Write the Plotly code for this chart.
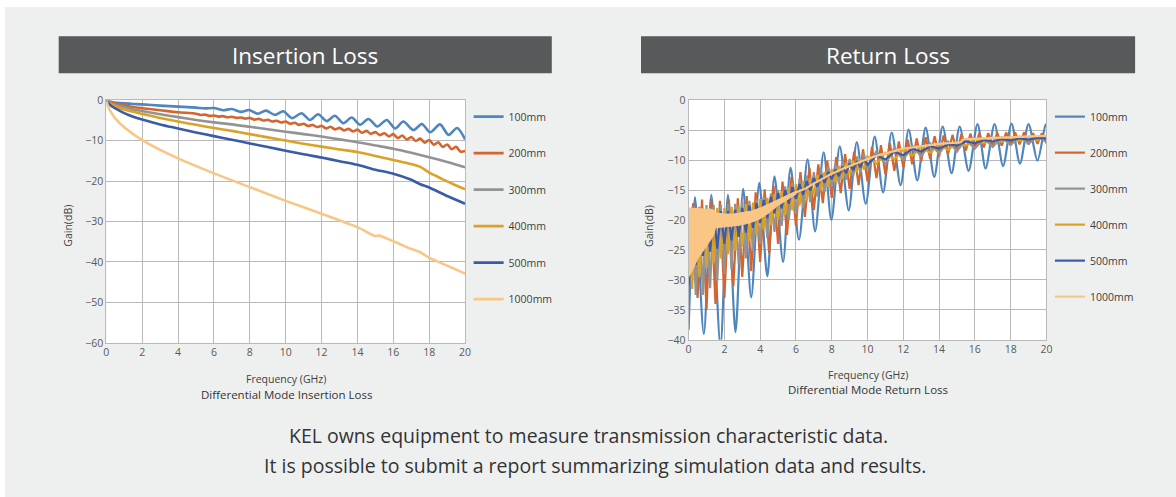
import plotly.graph_objects as go

# The page keeps the browser's 8px body margin, so the figure is sized to fit the window exactly.
WIN_W, WIN_H = 1176, 497
OFF = 8
W, H = WIN_W - 2 * OFF, WIN_H - 2 * OFF
# measured correction between requested and photographed positions
SX, CX = 0.99, 3.5
SY, CY = 0.972, 7.0

SERIES = ["100mm", "200mm", "300mm", "400mm", "500mm", "1000mm"]
COLORS = ["#4e86bd", "#d4652f", "#939393", "#dca127", "#3a5ca8", "#f9c685"]

# ---------------- Insertion loss ----------------
il100_f = [0, 0.1, 0.3, 0.6, 1, 1.5, 2, 3, 4, 5, 5.5, 6.0, 6.5, 7.0, 7.5, 7.95, 8.45, 8.9, 9.4, 9.86,
           10.35, 10.88, 11.35, 11.81, 12.28, 12.74, 13.21, 13.68, 14.14, 14.61, 15.11, 15.63, 16.1,
           16.56, 17.12, 17.59, 18.05, 18.6, 19.08, 19.55, 20.0]
il100 = [0, -0.2, -0.45, -0.65, -0.8, -0.95, -1.05, -1.35, -1.6, -1.85, -2.05, -1.95, -2.5, -2.2, -2.9,
         -2.45, -3.35, -2.6, -3.65, -2.75, -4.45, -3.25, -4.9, -3.5, -5.2, -3.85, -5.7, -4.3, -6.1,
         -4.65, -6.5, -4.9, -7.0, -5.3, -7.4, -5.9, -7.95, -6.0, -8.6, -6.9, -9.7]

il200_f = [0, 0.1, 0.3, 0.6, 1, 1.5, 2, 3, 4,
           5.0, 5.25, 5.5, 5.75, 6.0, 6.25, 6.5, 6.75, 7.0, 7.25, 7.5, 7.75, 8.0, 8.25, 8.5, 8.75,
           9.0, 9.25, 9.5, 9.75, 10.0, 10.25, 10.5, 10.75, 11.0, 11.25, 11.5, 11.75, 12.0, 12.25,
           12.5, 12.75, 13.0, 13.25, 13.5, 13.75, 14.0, 14.25, 14.5, 14.75, 15.0, 15.25, 15.5,
           15.75, 16.0, 16.25, 16.5, 16.75, 17.0, 17.25, 17.5, 17.75, 18.0, 18.25, 18.5, 18.75,
           19.0, 19.25, 19.5, 19.75, 20.0]
il200 = [0, -0.3, -0.65, -0.95, -1.25, -1.7, -2.0, -2.5, -3.0,
         -3.35, -3.66, -3.58, -3.89, -3.8, -4.08, -3.95, -4.23, -4.1, -4.39, -4.28, -4.56, -4.4,
         -4.81, -4.63, -5.04, -4.85, -5.28, -5.1, -5.53, -5.3, -5.84, -5.58, -6.11, -5.85, -6.39,
         -6.13, -6.66, -6.35, -6.98, -6.6, -7.23, -6.85, -7.48, -7.1, -7.73, -7.3, -8.05, -7.6,
         -8.35, -7.9, -8.65, -8.2, -8.95, -8.4, -9.38, -8.75, -9.73, -9.1, -10.1, -9.5, -10.5,
         -9.85, -11.03, -10.4, -11.58, -10.95, -12.15, -11.55, -12.75, -12.6]

il300_f = [0, 0.1, 0.3, 0.6, 1, 1.5, 2, 3, 4, 5, 6, 7, 8, 9, 10, 11, 12, 13, 14, 15, 16, 17, 18, 19, 20]
il300 = [0, -0.4, -0.9, -1.3, -1.7, -2.3, -2.7, -3.5, -4.2, -4.9, -5.5, -6.0, -6.6, -7.2, -7.8, -8.4,
         -9.0, -9.7, -10.4, -11.2, -12.0, -13.0, -14.1, -15.3, -16.6]

il400_f = [0, 0.1, 0.3, 0.6, 1, 1.5, 2, 3, 4, 5, 6, 7, 8, 9, 10, 11, 12, 13, 14, 15, 16, 17, 17.5,
           18, 18.5, 19, 19.5, 20]
il400 = [0, -0.5, -1.1, -1.7, -2.3, -2.9, -3.4, -4.4, -5.3, -6.1, -6.9, -7.6, -8.4, -9.2, -10.0,
         -10.8, -11.5, -12.2, -12.8, -13.8, -14.8, -15.8, -16.5, -17.9, -19.0, -20.1, -21.1, -22.0]

il500_f = [0, 0.1, 0.3, 0.6, 1, 1.5, 2, 3, 4, 5, 6, 7, 8, 9, 10, 11, 12, 13, 14, 15, 16, 17, 17.5,
           18, 19, 20]
il500 = [0, -0.7, -1.5, -2.3, -3.2, -4.1, -4.8, -6.0, -7.0, -8.0, -8.9, -9.8, -10.7, -11.6, -12.5,
         -13.4, -14.2, -15.1, -16.0, -17.2, -18.2, -19.7, -20.8, -21.6, -23.7, -25.6]

il1000_f = [0, 0.1, 0.25, 0.5, 1, 2, 3, 4, 6, 8, 10, 12, 14, 15, 15.2, 16, 17, 17.5, 18, 19, 20]
il1000 = [0, -1.6, -2.9, -4.5, -6.7, -9.9, -12.3, -14.4, -18.1, -21.5, -24.9, -28.1, -31.4, -33.6,
          -33.5, -34.9, -36.8, -37.6, -39.0, -40.9, -42.9]

IL = [(il100_f, il100), (il200_f, il200), (il300_f, il300), (il400_f, il400), (il500_f, il500),
      (il1000_f, il1000)]

# ---------------- Return loss ----------------
rl100_f = [0.0, 0.35, 0.85, 1.27, 1.78, 2.2, 2.62, 3.05, 3.5, 3.95, 4.4, 4.8, 5.28, 5.7, 6.17, 6.65,
           7.07, 7.55, 7.98, 8.45, 8.95, 9.4, 9.9, 10.4, 10.87, 11.35, 11.85, 12.3, 12.78, 13.25,
           13.73, 14.2, 14.7, 15.15, 15.65, 16.15, 16.6, 17.1, 17.58, 18.05, 18.52, 19.0, 19.5,
           19.95, 20.0]
rl100 = [-38.3, -16.2, -39.0, -15.8, -41.0, -15.8, -38.7, -14.8, -32.9, -13.8, -29.4, -12.7, -27.0,
         -11.3, -23.3, -9.9, -21.9, -8.7, -20.0, -7.7, -18.4, -7.0, -17.3, -6.1, -15.4, -5.4, -14.2,
         -4.9, -13.4, -4.6, -12.8, -4.4, -12.2, -4.4, -11.8, -4.0, -11.4, -4.0, -11.0, -3.9, -10.6,
         -4.0, -10.1, -4.1, -4.3]

rl200_f = [i * 0.25 for i in range(81)]
rl200 = [-31, -17.2, -33, -16.6, -35, -16.5, -34, -16.8, -33, -16.6, -31, -16.4, -29.5, -16.0, -28.5,
         -15.4, -27, -14.9, -25.5, -14.3, -24, -13.6, -22.5, -12.8, -21, -12.0, -19.5, -11.3, -18.3,
         -10.7, -17.2, -10.1, -16.3, -9.5, -15.5, -9.0, -14.8, -8.6, -14.2, -8.2, -13.6, -7.8, -13.0,
         -7.5, -12.4, -7.2, -11.8, -6.9, -11.2, -6.6, -10.7, -6.4, -10.2, -6.2, -9.8, -6.0, -9.4,
         -5.9, -9.0, -5.8, -8.7, -5.7, -8.4, -5.6, -8.1, -5.5, -7.9, -5.5, -7.7, -5.4, -7.6, -5.4,
         -7.5, -5.4, -7.4, -5.4, -7.4, -5.5, -7.3, -5.5, -7.2]

rl_grid = [i * 0.2 for i in range(51)] + [10.5 + i * 0.5 for i in range(20)]
rl300 = [-30, -17.9, -32.5, -17.8, -32.5, -17.5, -31.4, -17.5, -30.2, -17.5, -29, -17.4, -28.2,
         -17.3, -27.4, -17, -26.4, -16.8, -25.2, -16.6, -24, -16.2, -23, -15.6, -22, -15, -21,
         -14.4, -20, -13.8, -19, -13.2, -18, -12.6, -17, -12, -16.1, -11.5, -15.3, -11.0, -14.5,
         -10.6, -13.9, -10.2, -13.3, -9.8, -12.7, -9.4, -12.1, -9.0, -11.5,
         -8.5, -10.7, -8.0, -10.0, -7.6, -9.4, -7.2, -8.9, -6.9, -8.5, -6.6, -8.1, -6.4, -7.8,
         -6.2, -7.5, -6.1, -7.3, -6.0, -7.0]
rl400 = [-18.5, -31.5, -18.0, -29.5, -18.0, -28, -18.0, -27.2, -18.0, -26.4, -18.0, -25.7, -17.8,
         -25.1, -17.6, -24.5, -17.3, -23.5, -17.1, -22.5, -16.5, -21.6, -16.3, -20.8, -15.7, -20,
         -15.2, -19.2, -14.6, -18.4, -14.0, -17.6, -13.5, -16.7, -13.0, -15.8, -12.5, -15.1, -12.0,
         -14.4, -11.5, -13.7, -11.0, -13.1, -10.5, -12.5, -10.1, -12.0, -9.8, -11.6, -9.4,
         -10.6, -8.8, -9.9, -8.2, -9.3, -7.8, -8.8, -7.4, -8.3, -7.1, -7.6, -6.5, -7.2, -6.3,
         -7.0, -6.2, -6.8, -6.1, -6.7, -6.0]
rl500 = [-31, -18, -27.5, -18.2, -26, -18.5, -25.3, -18.5, -24.8, -18.5, -24, -18.5, -23.4, -18.3,
         -22.8, -18.0, -22.1, -17.6, -21.3, -17.2, -20.5, -16.7, -19.7, -16.1, -18.9, -15.5, -18.1,
         -15.0, -17.3, -14.5, -16.5, -14.0, -15.8, -13.5, -15.1, -13.0, -14.5, -12.5, -13.8, -12.0,
         -13.2, -11.6, -12.7, -11.1, -12.2, -10.6, -11.7, -10.2, -11.2, -9.8, -10.8,
         -9.2, -9.9, -8.6, -9.2, -8.1, -8.6, -7.7, -8.1, -7.4, -7.6, -6.9, -7.2, -6.7, -6.9,
         -6.5, -6.7, -6.4, -6.6, -6.3, -6.4]

rl1000_f = [0, 0.5, 1, 1.5, 2, 3, 4, 4.5, 5, 5.5, 6, 6.5, 7, 7.5, 8, 8.5, 9, 9.5, 10, 10.5, 11,
            11.5, 12, 12.5, 13, 13.5, 14, 14.5, 15, 15.2, 15.35, 16, 17, 18, 19, 20]
rl1000 = [-22.5, -21.5, -21.0, -20.2, -20.1, -19.8, -18.9, -17.9, -17.0, -16.2, -15.4, -14.8, -13.9,
          -13.1, -12.3, -11.6, -11.0, -10.4, -9.8, -9.3, -8.9, -8.5, -8.1, -7.9, -7.7, -7.5, -7.3,
          -7.2, -7.1, -7.05, -6.55, -6.45, -6.3, -6.2, -6.05, -5.95]
# envelope of the fast oscillation band of 1000mm at low frequency
rl1000_band_f = [0, 0.2, 0.5, 1.0, 1.4, 1.5, 2, 2.5, 3, 3.5, 4, 4.5, 5, 5.5, 6]
rl1000_upper = [-18.0, -18.0, -18.1, -18.2, -18.3, -18.8, -19.0, -19.0, -18.8, -18.5, -18.0, -17.3,
                -16.5, -15.9, -15.2]
rl1000_lower = [-29.5, -28.5, -26.5, -24.3, -22.6, -21.3, -21.2, -21.0, -20.8, -20.4, -19.8, -18.8,
                -17.6, -16.7, -15.7]

RL = [(rl100_f, rl100), (rl200_f, rl200), (rl_grid, rl300), (rl_grid, rl400), (rl_grid, rl500),
      (rl1000_f, rl1000)]

FONT = "Open Sans"
TICK_COLOR = "#595959"
GRID = "#b9b9b9"
PANEL = "#eef0ef"


def px_x(x):
    """reference pixel -> paper fraction"""
    return ((x - CX) / SX - OFF) / W


def px_y(y):
    return 1 - ((y - CY) / SY - OFF) / H


fig = go.Figure()

for i, (name, col) in enumerate(zip(SERIES, COLORS)):
    fx, fy = IL[i]
    fig.add_trace(go.Scatter(x=fx, y=fy, mode="lines", name=name, legendgroup="il" + name,
                             line=dict(color=col, width=2.6, shape="spline", smoothing=0.8),
                             xaxis="x", yaxis="y", legend="legend"))

for i, (name, col) in enumerate(zip(SERIES, COLORS)):
    fx, fy = RL[i]
    if name == "1000mm":
        fig.add_trace(go.Scatter(
            x=rl1000_band_f + rl1000_band_f[::-1], y=rl1000_upper + rl1000_lower[::-1],
            mode="lines", fill="toself", fillcolor=col, line=dict(color=col, width=1),
            showlegend=False, hoverinfo="skip", xaxis="x2", yaxis="y2"))
    fig.add_trace(go.Scatter(x=fx, y=fy, mode="lines", name=name, legendgroup="rl" + name,
                             line=dict(color=col, width=2.2,
                                       shape="spline" if name in ("100mm", "1000mm") else "linear",
                                       smoothing=0.8),
                             xaxis="x2", yaxis="y2", legend="legend2"))

axis_common = dict(showgrid=True, gridcolor=GRID, gridwidth=1, zeroline=False, showline=True,
                   linecolor=GRID, linewidth=1, mirror=True, ticks="",
                   tickfont=dict(family=FONT, size=10.5, color=TICK_COLOR), fixedrange=True)

fig.update_layout(
    width=W, height=H, autosize=False, margin=dict(l=0, r=0, t=0, b=0),
    paper_bgcolor=PANEL, plot_bgcolor="#ffffff",
    font=dict(family=FONT, color="#404040"),
    xaxis=dict(domain=[px_x(106.5), px_x(464.5)], range=[0, 20], dtick=2, anchor="y", **axis_common),
    yaxis=dict(domain=[px_y(343), px_y(100)], range=[-60, 0], dtick=10, anchor="x", **axis_common),
    xaxis2=dict(domain=[px_x(687.5), px_x(1044.5)], range=[0, 20], dtick=2, anchor="y2", **axis_common),
    yaxis2=dict(domain=[px_y(340), px_y(100)], range=[-40, 0], dtick=5, anchor="x2", **axis_common),
    legend=dict(x=px_x(468), y=px_y(102), xanchor="left", yanchor="top", tracegroupgap=17.5,
                font=dict(family=FONT, size=10.5, color="#404040"), bgcolor="rgba(0,0,0,0)",
                itemwidth=30),
    legend2=dict(x=px_x(1048), y=px_y(102), xanchor="left", yanchor="top", tracegroupgap=17,
                 font=dict(family=FONT, size=10.5, color="#404040"), bgcolor="rgba(0,0,0,0)",
                 itemwidth=30),
    showlegend=True,
)

shapes = [
    dict(type="rect", xref="paper", yref="paper", x0=px_x(59), x1=px_x(551), y0=px_y(73), y1=px_y(36),
         fillcolor="#58595b", line=dict(width=0), layer="below"),
    dict(type="rect", xref="paper", yref="paper", x0=px_x(640), x1=px_x(1133), y0=px_y(73), y1=px_y(36),
         fillcolor="#58595b", line=dict(width=0), layer="below"),
]
fig.update_layout(shapes=shapes)

ann = []


def add_text(text, x, y, size, color="#404040", angle=0):
    ann.append(dict(text=text, x=px_x(x), y=px_y(y), xref="paper", yref="paper", showarrow=False,
                    xanchor="center", yanchor="middle", textangle=angle,
                    font=dict(family=FONT, size=size, color=color)))


add_text("Insertion Loss", 305, 55, 22.5, "#ffffff")
add_text("Return Loss", 886, 55, 22.5, "#ffffff")
add_text("Frequency (GHz)", 285.5, 379, 10.5)
add_text("Differential Mode Insertion Loss", 286, 395, 11.5, "#333333")
add_text("Frequency (GHz)", 866, 375, 10.5)
add_text("Differential Mode Return Loss", 866, 390, 11.5, "#333333")
add_text("Gain(dB)", 68, 226, 10.5, angle=-90)
add_text("Gain(dB)", 648, 226, 10.5, angle=-90)
add_text("KEL owns equipment to measure transmission characteristic data.", 588, 436, 19.5, "#333333")
add_text("It is possible to submit a report summarizing simulation data and results.", 594, 466, 19.5,
         "#333333")
fig.update_layout(annotations=ann)

# page background around the figure: thin white strip top/left as in the reference, panel grey elsewhere
POST = ("var bg='linear-gradient(to right,#ffffff 5px,rgba(0,0,0,0) 5px),"
        "linear-gradient(to bottom,#ffffff 7px," + PANEL + " 7px)';"
        "document.documentElement.style.background=bg;document.body.style.background='transparent';")

fig.write_html("out.html", config={"displayModeBar": False, "responsive": False}, post_script=POST)
